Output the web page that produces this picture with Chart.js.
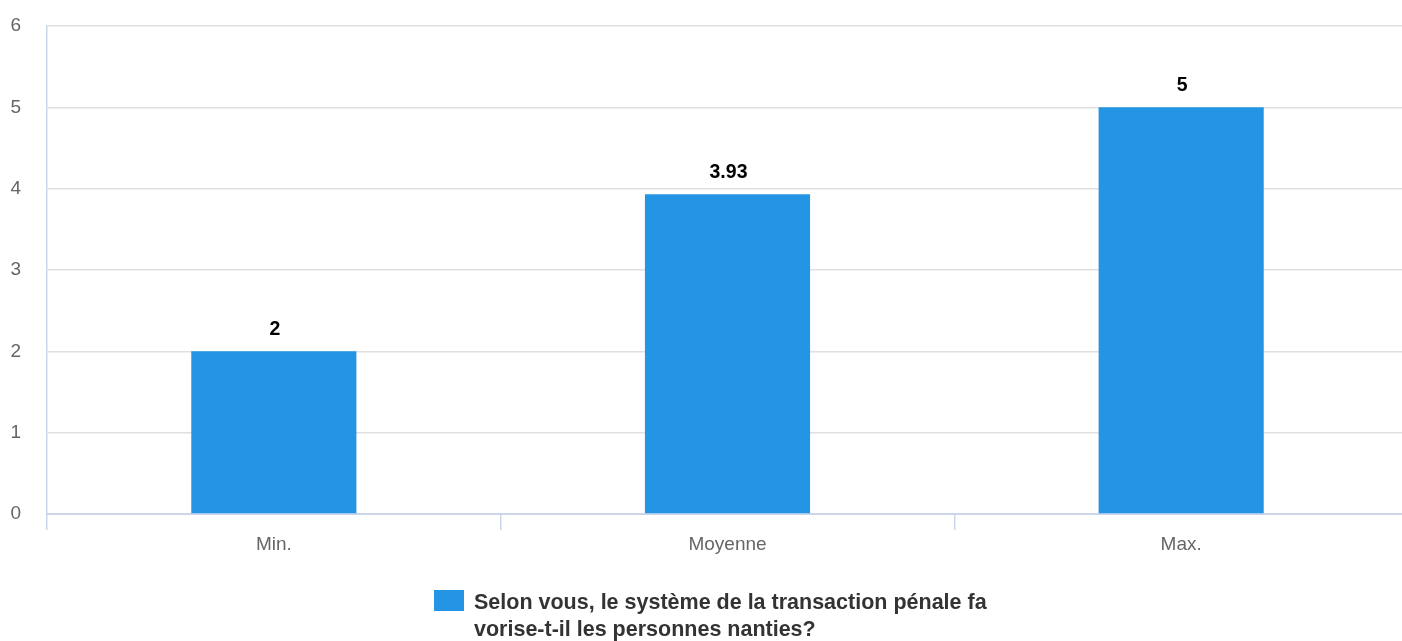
<!DOCTYPE html>
<html lang="fr">
<head>
<meta charset="utf-8">
<title>Transaction pénale</title>
<script src="https://cdn.jsdelivr.net/npm/chart.js@4/dist/chart.umd.min.js"></script>
<style>
  html, body { margin: 0; padding: 0; background: #fff; overflow: hidden; }
  #wrap { position: relative; width: 1402px; height: 641px; overflow: hidden; }
  #chart-box { position: absolute; left: 0; top: 0; width: 1408px; height: 641px; }
  #legend { position: absolute; left: 434px; top: 590px; font-family: "Liberation Sans", Arial, sans-serif;
            font-weight: bold; font-size: 21.5px; line-height: 27px; color: #333; }
  #legend .box { position: absolute; left: 0; top: 0; width: 30px; height: 21px; }
  #legend .txt { position: absolute; left: 40px; top: -1px; white-space: nowrap; }
</style>
</head>
<body>
<div id="wrap">
  <div id="chart-box"><canvas id="statChart"></canvas></div>
  <div id="legend"></div>
</div>
<script>
// --- données ---
const categories = ['Min.', 'Moyenne', 'Max.'];
const values = [2, 3.93, 5];
const yTicks = [0, 1, 2, 3, 4, 5, 6];
const seriesLabel = 'Selon vous, le système de la transaction pénale favorise-t-il les personnes nanties?';
const legendBreak = 50; // coupure de ligne comme dans l'original

const barColor = '#2494e4';
const fontFamily = '"Liberation Sans", Arial, sans-serif';

// étiquettes de valeur au-dessus des barres
const valueLabels = {
    id: 'valueLabels',
    afterDatasetsDraw(chart) {
        const ctx = chart.ctx;
        const meta = chart.getDatasetMeta(0);
        ctx.save();
        ctx.font = 'bold 19.5px ' + fontFamily;
        ctx.fillStyle = '#000';
        ctx.textAlign = 'center';
        ctx.textBaseline = 'middle';
        meta.data.forEach((bar, i) => {
            ctx.fillText(String(values[i]), bar.x + 1, bar.y - 22);
        });
        ctx.restore();
    }
};

const ctx = document.getElementById('statChart').getContext('2d');
new Chart(ctx, {
    type: 'bar',
    data: {
        labels: categories,
        datasets: [{
            label: seriesLabel,
            data: values,
            backgroundColor: barColor,
            borderWidth: 0,
            barPercentage: 0.364,
            categoryPercentage: 1
        }]
    },
    options: {
        responsive: true,
        maintainAspectRatio: false,
        animation: false,
        layout: { padding: { top: 26, right: 0, bottom: 0, left: 0 } },
        plugins: {
            legend: { display: false },
            tooltip: { enabled: false }
        },
        scales: {
            x: {
                grid: {
                    offset: true,
                    drawOnChartArea: false,
                    drawTicks: true,
                    tickLength: 16,
                    color: '#ccd6eb',
                    lineWidth: 1.5
                },
                border: { color: '#ccd6eb', width: 2 },
                ticks: {
                    color: '#666',
                    padding: 3,
                    font: { family: fontFamily, size: 19 }
                },
                afterFit(scale) {
                    scale.height = 127;
                    scale.paddingLeft = 0;
                    scale.paddingRight = 0;
                }
            },
            y: {
                min: 0,
                max: 6,
                afterBuildTicks(scale) { scale.ticks = yTicks.map(v => ({ value: v })); },
                grid: { color: '#e0e0e0', lineWidth: 1.5, drawTicks: false },
                border: { color: '#ccd6eb', width: 1.5 },
                ticks: {
                    color: '#666',
                    padding: 26,
                    font: { family: fontFamily, size: 19 }
                },
                afterFit(scale) {
                    scale.width = 47;
                    scale.paddingTop = 0;
                    scale.paddingBottom = 0;
                }
            }
        }
    },
    plugins: [valueLabels]
});

// légende HTML (libellé sur deux lignes)
const legend = document.getElementById('legend');
legend.innerHTML = '<div class="box" style="background:' + barColor + '"></div>' +
    '<div class="txt">' + seriesLabel.slice(0, legendBreak) + '<br>' + seriesLabel.slice(legendBreak) + '</div>';
</script>
</body>
</html>
